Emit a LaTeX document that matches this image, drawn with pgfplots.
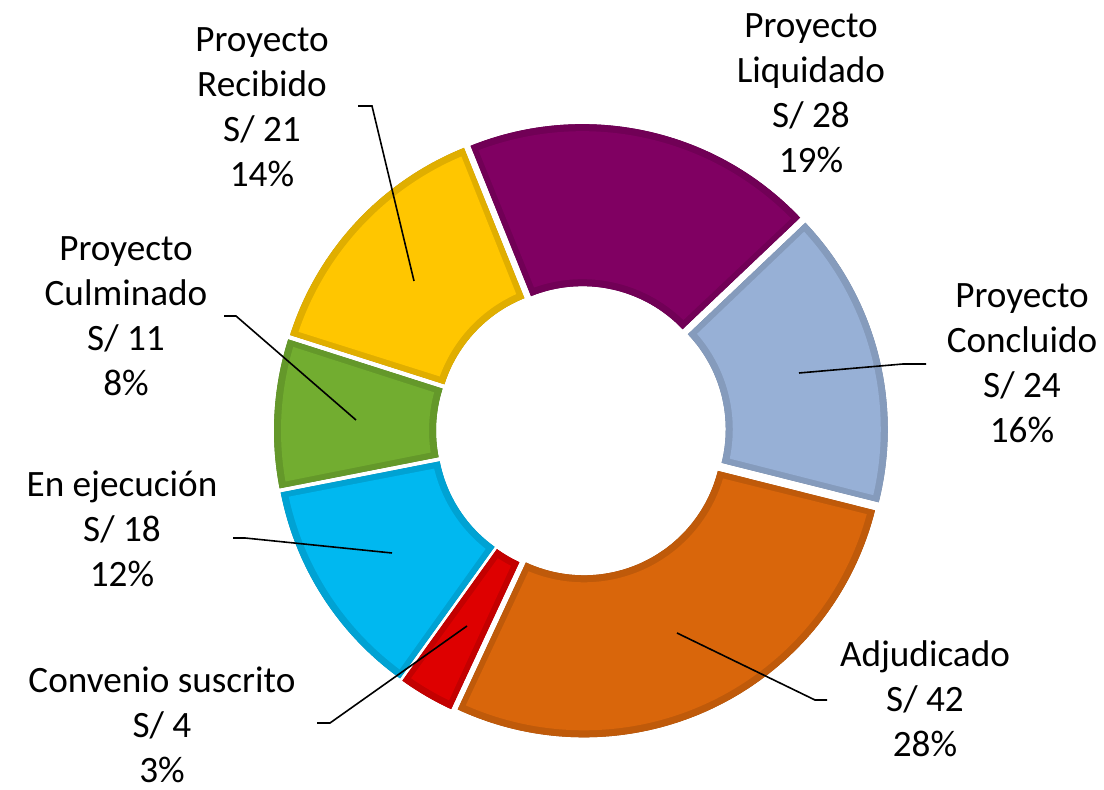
\documentclass[border=0pt]{standalone}
\usepackage{pgfplots}
\pgfplotsset{compat=1.18}
\usepackage{pgfplotstable}
\usetikzlibrary{calc}
\usepackage{fontspec}
\setmainfont{Carlito}
\definecolor{cLiq}{RGB}{128,0,98}
\definecolor{cCon}{RGB}{151,176,214}
\definecolor{cAdj}{RGB}{217,102,11}
\definecolor{cConv}{RGB}{222,0,0}
\definecolor{cEje}{RGB}{0,184,240}
\definecolor{cCul}{RGB}{114,173,48}
\definecolor{cRec}{RGB}{255,198,0}
\pgfplotstableread{
name pct val col
Liquidado 19 28 cLiq
Concluido 16 24 cCon
Adjudicado 28 42 cAdj
Convenio 3 4 cConv
Ejecucion 12 18 cEje
Culminado 8 11 cCul
Recibido 14 21 cRec
}\datatable
\begin{document}
\begin{tikzpicture}
\begin{axis}[
  width=552pt, height=395pt, scale only axis,
  xmin=0, xmax=1104, ymin=0, ymax=790, y dir=reverse,
  hide axis, clip=false]
\path (axis cs:0,0) rectangle (axis cs:1104,790);
\def\astart{111.9}
\pgfplotsforeachungrouped \i in {0,...,6}{%
  \pgfplotstablegetelem{\i}{pct}\of\datatable \let\p\pgfplotsretval
  \pgfplotstablegetelem{\i}{col}\of\datatable \let\c\pgfplotsretval
  \pgfmathsetmacro\aend{\astart-3.6*\p}%
  \pgfmathsetmacro\amid{(\astart+\aend)/2}%
  \pgfmathsetmacro\cx{581+7*cos(\amid)}%
  \pgfmathsetmacro\cy{431-7*sin(\amid)}%
  \pgfmathsetmacro\aso{\astart-1.1}%
  \pgfmathsetmacro\aeo{\aend+1.1}%
  \pgfmathsetmacro\asi{\astart-2.4}%
  \pgfmathsetmacro\aei{\aend+2.4}%
  \edef\slice{%
    \noexpand\fill[\c!72!black] (axis cs:\cx,\cy) ++(\astart:150pt)
      arc[start angle=\astart,end angle=\aend,radius=150pt]
      -- ++(\aend:-81pt)
      arc[start angle=\aend,end angle=\astart,radius=69pt] -- cycle;
    \noexpand\fill[\c!88!black] (axis cs:\cx,\cy) ++(\astart:150pt)
      arc[start angle=\astart,end angle=\aend,radius=150pt]
      -- ++(\aend:-81pt)
      arc[start angle=\aend,end angle=\astart,radius=69pt] -- cycle;
    \noexpand\fill[\c] (axis cs:\cx,\cy) ++(\aso:146.5pt)
      arc[start angle=\aso,end angle=\aeo,radius=146.5pt]
      -- ($(axis cs:\cx,\cy)+(\aei:72.5pt)$)
      arc[start angle=\aei,end angle=\asi,radius=72.5pt] -- cycle;
  }\slice
  \let\astart\aend
}
% leader lines
\draw[line width=0.8pt] (axis cs:358,106) -- (axis cs:372,106) -- (axis cs:414,281);
\draw[line width=0.8pt] (axis cs:224,316) -- (axis cs:236,316) -- (axis cs:356,420);
\draw[line width=0.8pt] (axis cs:233,538) -- (axis cs:245,538) -- (axis cs:392,553);
\draw[line width=0.8pt] (axis cs:317,723) -- (axis cs:330,723) -- (axis cs:467,626);
\draw[line width=0.8pt] (axis cs:827,700) -- (axis cs:815,700) -- (axis cs:677,633);
\draw[line width=0.8pt] (axis cs:926,364) -- (axis cs:903,364) -- (axis cs:799,373);
% labels
\tikzset{lab/.style={anchor=base, inner sep=0pt, font=\fontsize{18.6}{22.5}\selectfont}}
\node[lab] at (axis cs:262,52) {Proyecto};
\node[lab] at (axis cs:262,97) {Recibido};
\node[lab] at (axis cs:262,142) {S/ 21};
\node[lab] at (axis cs:262,187) {14\%};
\node[lab] at (axis cs:811,38) {Proyecto};
\node[lab] at (axis cs:811,83) {Liquidado};
\node[lab] at (axis cs:811,128) {S/ 28};
\node[lab] at (axis cs:811,173) {19\%};
\node[lab] at (axis cs:1022,308) {Proyecto};
\node[lab] at (axis cs:1022,353) {Concluido};
\node[lab] at (axis cs:1022,398) {S/ 24};
\node[lab] at (axis cs:1022,443) {16\%};
\node[lab] at (axis cs:126,261) {Proyecto};
\node[lab] at (axis cs:126,306) {Culminado};
\node[lab] at (axis cs:126,351) {S/ 11};
\node[lab] at (axis cs:126,396) {8\%};
\node[lab] at (axis cs:122,497) {En ejecución};
\node[lab] at (axis cs:122,542) {S/ 18};
\node[lab] at (axis cs:122,587) {12\%};
\node[lab] at (axis cs:162,693) {Convenio suscrito};
\node[lab] at (axis cs:162,738) {S/ 4};
\node[lab] at (axis cs:162,783) {3\%};
\node[lab] at (axis cs:925,667) {Adjudicado};
\node[lab] at (axis cs:925,712) {S/ 42};
\node[lab] at (axis cs:925,757) {28\%};
\end{axis}
\end{tikzpicture}
\end{document}
